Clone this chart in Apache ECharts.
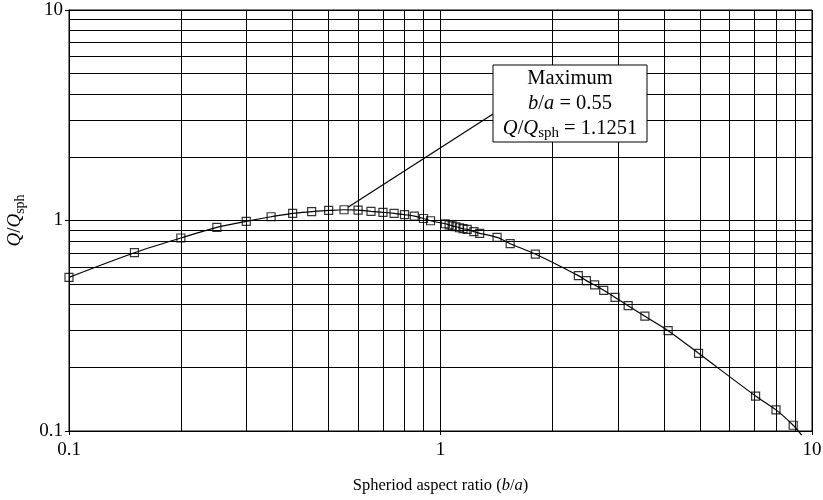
<!DOCTYPE html>
<html>
<head>
<meta charset="utf-8">
<script src="https://cdn.jsdelivr.net/npm/echarts@6/dist/echarts.min.js"></script>
<style>
html,body{margin:0;padding:0;background:#fff;}
#chart{width:823px;height:500px;}
</style>
</head>
<body>
<div id="chart"></div>
<script>
// ---- data ----
const aspectRatio = [0.1, 0.15, 0.2, 0.25, 0.3, 0.35, 0.4, 0.45, 0.5, 0.55, 0.6, 0.65, 0.7, 0.75, 0.8, 0.85, 0.9, 0.94,
  1.03, 1.055, 1.075, 1.1, 1.125, 1.15, 1.18, 1.23, 1.275, 1.42, 1.54, 1.8, 2.35, 2.47, 2.6, 2.75, 2.95, 3.2, 3.55, 4.1, 4.95, 7.05, 8.0, 8.9];
const qRatio = [0.537, 0.703, 0.826, 0.928, 0.991, 1.042, 1.082, 1.101, 1.116, 1.125, 1.119, 1.106, 1.094, 1.082, 1.066, 1.05, 1.022, 0.997,
  0.965, 0.953, 0.943, 0.934, 0.924, 0.914, 0.907, 0.885, 0.869, 0.831, 0.776, 0.693, 0.547, 0.518, 0.494, 0.466, 0.431, 0.394, 0.351, 0.2996, 0.234, 0.1466, 0.126, 0.1065];
const curveEnd = [9.38, 0.0957];
const maxPoint = [0.55, 1.1251];
const xTickLabels = ['0.1', '1', '10'];
const yTickLabels = ['0.1', '1', '10'];
const minorGridX = [0.2, 0.3, 0.4, 0.5, 0.6, 0.7, 0.8, 0.9, 2, 3, 4, 5, 6, 7, 8, 9];
const minorGridY = [0.2, 0.3, 0.4, 0.5, 0.6, 0.7, 0.8, 0.9, 2, 3, 4, 5, 6, 7, 8, 9];

const FONT = 'Liberation Serif';
const points = aspectRatio.map((x, i) => [x, qRatio[i]]);
const curve = points.concat([curveEnd]);

const chart = echarts.init(document.getElementById('chart'), null, {renderer: 'canvas'});

const gridMarks = minorGridX.map(v => ({xAxis: v})).concat(minorGridY.map(v => ({yAxis: v})));

const option = {
  animation: false,
  backgroundColor: '#fff',
  grid: {left: 69, right: 11, top: 10, bottom: 69, containLabel: false, outerBoundsMode: 'none',
    show: true, borderColor: '#000', borderWidth: 1, backgroundColor: 'transparent'},
  xAxis: {
    type: 'log', logBase: 10, min: 0.1, max: 10,
    name: '{n|Spheriod aspect ratio (}{i|b}{n|/}{i|a}{n|)}',
    nameLocation: 'middle', nameGap: 46,
    nameTextStyle: {rich: {
      n: {fontFamily: FONT, fontSize: 16.5, color: '#000'},
      i: {fontFamily: FONT, fontSize: 16.5, fontStyle: 'italic', color: '#000'}
    }},
    axisLine: {show: true, lineStyle: {color: '#000', width: 1}},
    axisTick: {show: true, length: 4, lineStyle: {color: '#000'}},
    axisLabel: {fontFamily: FONT, fontSize: 19, color: '#000', margin: 10,
      showMinLabel: true, showMaxLabel: true,
      formatter: (v) => { const i = Math.round(Math.log10(v)) + 1; return xTickLabels[i] || ''; }},
    splitLine: {show: true, lineStyle: {color: '#000', width: 1}},
    minorTick: {show: false}, minorSplitLine: {show: false}
  },
  yAxis: {
    type: 'log', logBase: 10, min: 0.1, max: 10,
    name: '{i|Q}{n|/}{i|Q}{s|sph}',
    nameLocation: 'middle', nameGap: 43, nameRotate: 90,
    nameTextStyle: {rich: {
      n: {fontFamily: FONT, fontSize: 19, color: '#000', lineHeight: 22},
      i: {fontFamily: FONT, fontSize: 19, fontStyle: 'italic', color: '#000', lineHeight: 22},
      s: {fontFamily: FONT, fontSize: 14, color: '#000', lineHeight: 14, padding: [10, 0, 0, 0]}
    }},
    axisLine: {show: true, lineStyle: {color: '#000', width: 1}},
    axisTick: {show: true, length: 4, lineStyle: {color: '#000'}},
    axisLabel: {fontFamily: FONT, fontSize: 19, color: '#000', margin: 6,
      showMinLabel: true, showMaxLabel: true,
      formatter: (v) => { const i = Math.round(Math.log10(v)) + 1; return yTickLabels[i] || ''; }},
    splitLine: {show: true, lineStyle: {color: '#000', width: 1}},
    minorTick: {show: false}, minorSplitLine: {show: false}
  },
  series: [
    {
      type: 'line', data: [], silent: true,
      markLine: {silent: true, symbol: ['none', 'none'], label: {show: false},
        lineStyle: {color: '#000', width: 1, type: 'solid'}, emphasis: {disabled: true},
        data: gridMarks}
    },
    {
      type: 'line', data: curve, smooth: 0.3, showSymbol: false, clip: false,
      lineStyle: {color: '#000', width: 1.2}, silent: true, z: 5
    },
    {
      type: 'scatter', data: points, symbol: 'rect', symbolSize: 8, silent: true, z: 6,
      itemStyle: {color: 'rgba(0,0,0,0)', borderColor: '#000', borderWidth: 1.2}
    }
  ]
};
chart.setOption(option);

// callout box and leader line
const box = {x: 493, y: 65, w: 154, h: 77};
const p = chart.convertToPixel({gridIndex: 0}, maxPoint);
const anchor = [box.x, 114];
const dx = anchor[0] - p[0], dy = anchor[1] - p[1];
const start = [p[0] + 4, p[1] + 4 * dy / dx];
const rich = {
  n: {fontFamily: FONT, fontSize: 20.5, fill: '#000', lineHeight: 25},
  i: {fontFamily: FONT, fontSize: 20.5, fontStyle: 'italic', fill: '#000', lineHeight: 25},
  s: {fontFamily: FONT, fontSize: 15, fill: '#000', lineHeight: 15, padding: [10, 0, 0, 0]}
};
chart.setOption({
  graphic: [
    {type: 'line', silent: true, z: 10, shape: {x1: start[0], y1: start[1], x2: anchor[0], y2: anchor[1]},
      style: {stroke: '#000', lineWidth: 1.2}},
    {type: 'rect', silent: true, z: 10, shape: {x: box.x, y: box.y, width: box.w, height: box.h},
      style: {fill: '#fff', stroke: '#000', lineWidth: 1}},
    {type: 'text', silent: true, z: 11, x: box.x + box.w / 2, y: box.y + box.h / 2,
      style: {
        text: '{n|Maximum}\n{i|b}{n|/}{i|a}{n| = 0.55}\n{i|Q}{n|/}{i|Q}{s|sph}{n| = 1.1251}',
        rich: rich, align: 'center', verticalAlign: 'middle', fill: '#000'
      }}
  ]
});
</script>
</body>
</html>
